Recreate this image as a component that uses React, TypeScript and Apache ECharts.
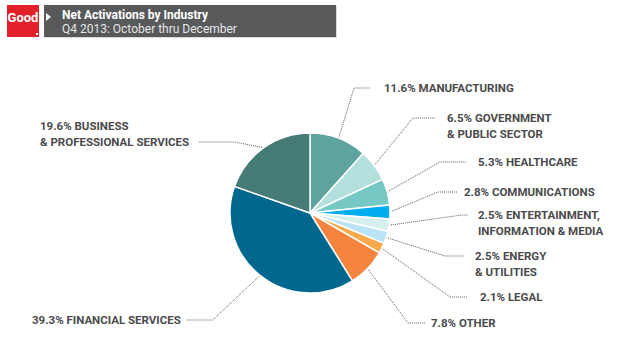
import React, { useEffect, useRef } from "react";
import * as echarts from "echarts";

// ---- data ----
const categories = [
  "MANUFACTURING",
  "GOVERNMENT\n& PUBLIC SECTOR",
  "HEALTHCARE",
  "COMMUNICATIONS",
  "ENTERTAINMENT,\nINFORMATION & MEDIA",
  "ENERGY\n& UTILITIES",
  "LEGAL",
  "OTHER",
  "FINANCIAL SERVICES",
  "BUSINESS\n& PROFESSIONAL SERVICES",
];
const shares = [11.6, 6.5, 5.3, 2.8, 2.5, 2.5, 2.1, 7.8, 39.3, 19.6];
const sliceColors = [
  "#5FA39E",
  "#B3DFDC",
  "#76C8C4",
  "#00AEEF",
  "#D6EFEF",
  "#B9E4F6",
  "#F9A94B",
  "#F5853E",
  "#00688F",
  "#467A74",
];
const titleText = "Net Activations by Industry";
const subtitleText = "Q4 2013: October thru December";

// ---- label layout (positions / styles, not data) ----
const LH = 16;
// text start x, anchor y (leader attachment line centre)
const labelX = [384, 447, 478, 464, 478, 475, 480, 431, 32, 40];
const labelY = [88, 118, 162, 192, 215, 256, 297, 323, 320, 142];
// which line the leader attaches to: 0 single, 1 first of two, 2 second of two
const attach = [0, 1, 0, 0, 1, 1, 0, 0, 0, 2];
const nLines = [1, 2, 1, 1, 2, 2, 1, 1, 1, 2];
// side: 1 = right of pie, -1 = left of pie
const side = [1, 1, 1, 1, 1, 1, 1, 1, -1, -1];
const gap = [14, 12, 12, 7, 10, 11, 13, 6, 5, 9];
const hLen = [16, 22, 26, 19, 6, 19, 17, 17, 27, 36];

const FONT = "Roboto, 'Liberation Sans', sans-serif";

export default function App() {
  const ref = useRef<HTMLDivElement>(null);

  useEffect(() => {
    if (!ref.current) return;
    const chart = echarts.init(ref.current, undefined, { renderer: "svg" });

    const data = shares.map((v, i) => {
      const pt = attach[i] === 1 ? LH : 0;
      const pb = attach[i] === 2 ? LH : 0;
      const pl = side[i] === 1 ? gap[i] : 0;
      const pr = side[i] === -1 ? gap[i] : 0;
      return {
        name: categories[i],
        value: v,
        itemStyle: { color: sliceColors[i] },
        label: { padding: [pt, pr, pb, pl] },
        labelLine: { length2: hLen[i] },
      };
    });

    chart.setOption({
      animation: false,
      backgroundColor: "#ffffff",
      graphic: [
        { type: "rect", shape: { x: 7, y: 5, width: 32, height: 32 }, style: { fill: "#E2202A" } },
        {
          type: "text",
          x: 23,
          y: 17,
          style: {
            text: "Good",
            fill: "#ffffff",
            font: `bold 13px ${FONT}`,
            align: "center",
            verticalAlign: "middle",
          },
        },
        { type: "rect", shape: { x: 36, y: 33, width: 2, height: 2 }, style: { fill: "#ffffff" } },
        { type: "rect", shape: { x: 45, y: 6, width: 292, height: 32 }, style: { fill: "#d9d9d9" } },
        { type: "rect", shape: { x: 44, y: 5, width: 292, height: 32 }, style: { fill: "#58595B" } },
        {
          type: "polygon",
          shape: { points: [[46, 13], [51, 17], [46, 21]] },
          style: { fill: "#ffffff" },
        },
        {
          type: "text",
          x: 62,
          y: 15,
          style: {
            text: titleText,
            fill: "#ffffff",
            font: `bold 12px ${FONT}`,
            verticalAlign: "middle",
          },
        },
        {
          type: "text",
          x: 62,
          y: 29,
          style: {
            text: subtitleText,
            fill: "#e6e6e6",
            font: `12px ${FONT}`,
            verticalAlign: "middle",
          },
        },
      ],
      series: [
        {
          type: "pie",
          center: [310, 213],
          radius: [0, 80],
          startAngle: 90,
          clockwise: true,
          avoidLabelOverlap: false,
          itemStyle: { borderColor: "#ffffff", borderWidth: 1.5 },
          label: {
            show: true,
            position: "outside",
            formatter: (p: any) => `${p.value}% ${p.name}`,
            color: "#4A4A4C",
            fontFamily: FONT,
            fontWeight: "bold",
            fontSize: 11.5,
            lineHeight: LH,
            align: "left",
            backgroundColor: "rgba(255,255,255,0)",
          },
          labelLine: {
            show: true,
            length: 15,
            length2: 15,
            lineStyle: { color: "#58595B", width: 1, type: "dotted" },
          },
          labelLayout: (params: any) => {
            const i = params.dataIndex;
            const boxH = nLines[i] * LH + (attach[i] > 0 ? LH : 0);
            return {
              x: side[i] === 1 ? labelX[i] - gap[i] : labelX[i],
              y: labelY[i] - boxH / 2,
              align: "left",
              verticalAlign: "top",
            };
          },
          emphasis: { disabled: true },
          data,
        },
      ],
    });

    return () => chart.dispose();
  }, []);

  return (
    <div
      ref={ref}
      style={{ position: "fixed", left: 0, top: 0, width: 620, height: 352 }}
    />
  );
}
